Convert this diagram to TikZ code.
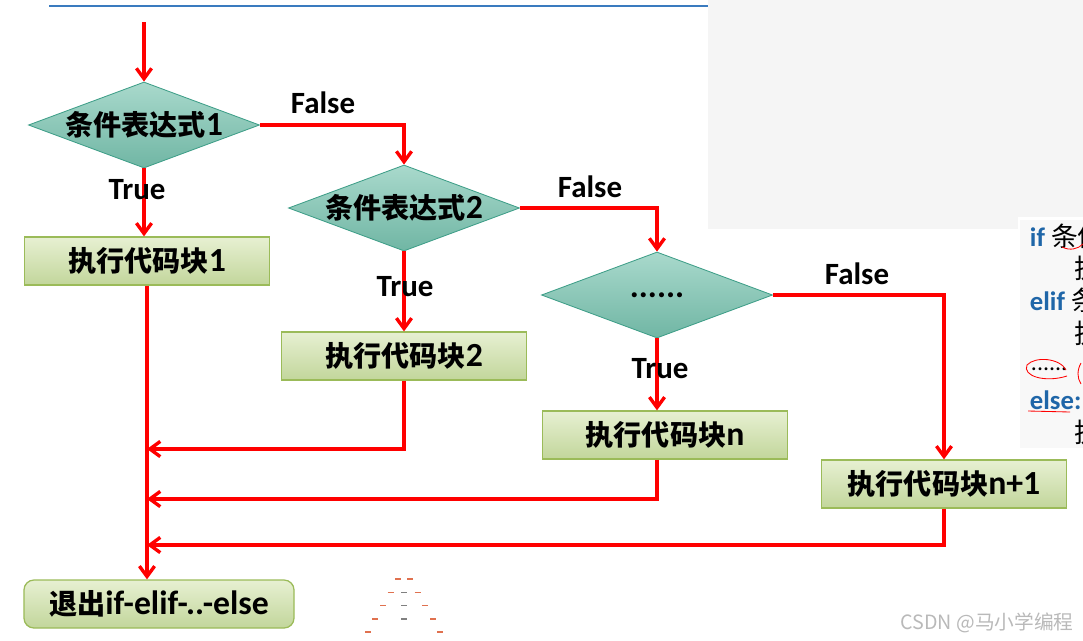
\documentclass[tikz,border=0pt]{standalone}
\usepackage{fontspec}
\setmainfont{Carlito}
\newfontfamily\cjk{Noto Sans CJK SC}
\usetikzlibrary{shapes.geometric, arrows.meta}
\definecolor{flowRed}{HTML}{FF0000}
\definecolor{diaTop}{HTML}{A9D9CC}
\definecolor{diaBot}{HTML}{70B6A4}
\definecolor{diaEdge}{HTML}{3E9E88}
\definecolor{boxTop}{HTML}{E7F0D2}
\definecolor{boxBot}{HTML}{C2D69B}
\definecolor{boxEdge}{HTML}{9BBB59}
\definecolor{slideBlue}{HTML}{3A7BBF}
\definecolor{codeBlue}{HTML}{1F66A8}
\definecolor{panelGray}{HTML}{F5F5F5}
\definecolor{dashOrange}{HTML}{E0714F}
\newcommand{\zh}[1]{{\cjk\fontsize{20}{24}\selectfont #1}}
\newcommand{\boxfont}{\fontsize{24}{26}\selectfont\bfseries}
\newcommand{\lblfont}{\fontsize{22}{26}\selectfont\bfseries}

\begin{document}
\begin{tikzpicture}[x=0.025cm, y=-0.025cm, node distance=2cm, auto,
	decision/.style={diamond, aspect=2.7, minimum width=5.775cm, minimum height=2.15cm, inner sep=0pt, draw=diaEdge, line width=0.6pt, top color=diaTop, bottom color=diaBot, font=\boxfont},
	block/.style={rectangle, minimum width=6.125cm, minimum height=1.2cm, inner sep=0pt, draw=boxEdge, line width=0.9pt, top color=boxTop, bottom color=boxBot, font=\boxfont},
	lbl/.style={font=\lblfont, inner sep=0pt},
	flow/.style={draw=flowRed, line width=2.4pt, -{Straight Barb[length=0.26cm, width=0.38cm]}}]
	\useasboundingbox (0,0) rectangle (1083,640);

	\fill[panelGray] (708,0) rectangle (1018,229);
	\fill[panelGray] (1018,0) rectangle (1083,217);
	\fill[panelGray!70!white] (1020,220) rectangle (1083,448);
	\draw[slideBlue, line width=1.6pt] (49,6) -- (708,6);

	\begin{scope}
		\clip (1020,218) rectangle (1083,448);
		\node (codeIf) [anchor=west, font=\fontsize{19}{22}\selectfont] at (1025,236) {\textcolor{codeBlue}{\bfseries if} {\cjk 条件}};
		\node (codeDo1) [anchor=west, font=\fontsize{19}{22}\selectfont] at (1070,268) {{\cjk 执}};
		\node (codeElif) [anchor=west, font=\fontsize{19}{22}\selectfont] at (1025,300) {\textcolor{codeBlue}{\bfseries elif} {\cjk 条}};
		\node (codeDo2) [anchor=west, font=\fontsize{19}{22}\selectfont] at (1070,333) {{\cjk 执}};
		\node (codeDots) [anchor=west, font=\fontsize{17}{20}\selectfont] at (1026,369) {......};
		\node (codeElse) [anchor=west, font=\fontsize{19}{22}\selectfont] at (1025,400) {\textcolor{codeBlue}{\bfseries else:}};
		\node (codeDo3) [anchor=west, font=\fontsize{19}{22}\selectfont] at (1070,432) {{\cjk 执}};
		\draw[flowRed, line width=0.6pt] (1062,247) .. controls (1070,251) and (1078,249) .. (1083,244);
		\draw[flowRed, line width=0.6pt] (1066,370) .. controls (1060,358) and (1035,356) .. (1027,365) .. controls (1022,376) and (1045,383) .. (1067,376);
		\draw[flowRed, line width=0.6pt] (1081,363) .. controls (1077,370) and (1077,378) .. (1081,384);
		\draw[flowRed, line width=0.6pt] (1028,411) -- (1070,412);
	\end{scope}

	\node (cond1) [decision] at (144,125) {\zh{条件表达式}1};
	\node (block1) [block, below of=cond1, node distance=3.4cm, xshift=0.075cm] {\zh{执行代码块}1};
	\node (cond2) [decision] at (404,208) {\zh{条件表达式}2};
	\node (block2) [block, below of=cond2, node distance=3.7cm] {\zh{执行代码块}2};
	\node (condN) [decision] at (657,295) {......};
	\node (blockN) [block] at (665,435) {\zh{执行代码块}n};
	\node (blockNp1) [block] at (944,484) {\zh{执行代码块}n+1};
	\node (exitBlock) [block, rounded corners=0.25cm, minimum width=6.75cm] at (159,604) {\zh{退出}if-elif-..-else};

	\coordinate (entry) at (144,22);
	\coordinate (back2) at (block1.south |- 0,449);
	\coordinate (backN) at (block1.south |- 0,499);
	\coordinate (backNp1) at (block1.south |- 0,545);

	\draw[flow] (entry) -- (cond1);
	\draw[flow] (cond1) -- (cond1 |- block1.north);
	\draw[flow] (cond1.east) -| (cond2.north);
	\draw[flow] (cond2) -- (block2);
	\draw[flow] (cond2.east) -| (condN.north);
	\draw[flow] (condN.south) -- (condN.south |- blockN.north);
	\draw[flow] (condN.east) -| (blockNp1.north);
	\draw[flow] (block1.south) -- (block1.south |- exitBlock.north);
	\draw[flow] (block2.south) |- (back2);
	\draw[flow] (condN |- blockN.south) |- (backN);
	\draw[flow] (blockNp1.south) |- (backNp1);

	\node (false1) [lbl] at (323,103) {False};
	\node (false2) [lbl] at (590,187) {False};
	\node (falseN) [lbl] at (857,274) {False};
	\node (true1) [lbl] at (137,190) {True};
	\node (true2) [lbl] at (405,287) {True};
	\node (trueN) [lbl] at (660,369) {True};

	\foreach \row/\half in {0/6, 1/13.5, 2/21, 3/29, 4/36} {
		\draw[dashOrange, line width=1.1pt] (404-\half-3,579+13.3*\row) -- ++(6,0);
		\draw[dashOrange, line width=1.1pt] (404+\half-3,579+13.3*\row) -- ++(6,0);
	}
	\foreach \row in {1,2,3} {
		\draw[gray, line width=1.1pt] (401,579+13.3*\row) -- ++(6,0);
	}

	\node (mark) [text=gray!55, font=\fontsize{14}{16}\selectfont\cjk] at (987,623) {CSDN @马小学编程};
\end{tikzpicture}
\end{document}
